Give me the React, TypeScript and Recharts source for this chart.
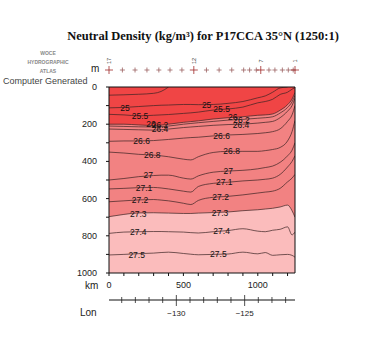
import React from "react"
import { ComposedChart, Area, Line, Scatter, XAxis, YAxis, CartesianGrid } from "recharts"

// section distance (km) where the contour depths were read
const KM = [0, 100, 200, 300, 350, 400, 500, 550, 600, 700, 800, 900, 1000, 1050, 1100, 1150, 1200, 1230, 1250]

// depth (m) of each neutral density surface along the section
const D245 = [44, 42, 39, 34, 24, 0, null, null, null, null, null, null, null, null, null, null, null, null, null]
const D250 = [112, 110, 105, 100, 98, 97, 94, 94, 95, 94, 88, 78, 58, 48, 28, 5, 0, null, null]
const D255 = [147, 150, 155, 152, 150, 148, 142, 139, 135, 124, 118, 108, 85, 78, 66, 40, 28, 12, 3]
const D260 = [200, 200, 204, 207, 205, 200, 190, 186, 182, 172, 165, 160, 152, 150, 145, 125, 95, 65, 30]
const D262 = [210, 212, 214, 215, 213, 210, 200, 196, 192, 185, 178, 174, 168, 165, 160, 140, 110, 80, 45]
const D264 = [226, 228, 230, 232, 230, 226, 218, 215, 212, 206, 202, 200, 194, 190, 185, 165, 130, 100, 60]
const D266 = [292, 290, 290, 288, 285, 282, 275, 272, 270, 263, 258, 255, 250, 246, 240, 225, 185, 150, 100]
const D268 = [350, 355, 362, 366, 370, 375, 388, 392, 375, 352, 346, 346, 346, 342, 336, 325, 290, 240, 180]
const D270 = [500, 492, 482, 476, 474, 474, 490, 495, 478, 458, 452, 448, 440, 433, 425, 405, 370, 340, 300]
const D271 = [548, 545, 541, 540, 543, 548, 560, 565, 535, 518, 512, 505, 500, 496, 490, 470, 430, 400, 370]
const D272 = [617, 612, 607, 605, 608, 612, 625, 632, 610, 593, 588, 580, 570, 565, 560, 545, 510, 490, 470]
const D273 = [697, 685, 677, 676, 677, 678, 680, 680, 678, 675, 672, 665, 660, 656, 652, 645, 635, 665, 700]
const D274 = [787, 780, 778, 777, 777, 778, 780, 783, 785, 778, 772, 762, 775, 778, 770, 765, 752, 795, 780]
const D275 = [903, 900, 896, 893, 890, 888, 895, 899, 902, 900, 898, 888, 897, 890, 905, 902, 900, 905, 915]

// contour labels (two per surface)
const LABEL_TEXT = ["25", "25.5", "26", "26.2", "26.4", "26.6", "26.8", "27", "27.1", "27.2", "27.3", "27.4", "27.5"]
const LABEL_KM_L = [107, 208, 282, 343, 343, 219, 291, 264, 235, 208, 197, 197, 186]
const LABEL_DEPTH_L = [115, 156, 200, 204, 226, 290, 366, 475, 541, 607, 681, 778, 903]
const LABEL_KM_R = [656, 757, 831, 891, 887, 757, 824, 802, 775, 750, 746, 757, 735]
const LABEL_DEPTH_R = [97, 120, 163, 176, 204, 262, 344, 450, 509, 590, 676, 774, 898]

// station positions along the track
const STATION_KM = [0, 90, 175, 255, 335, 410, 490, 570, 655, 740, 825, 905, 945, 990, 1020, 1075, 1115, 1165, 1205, 1238, 1250]
const MAJOR_KM = [0, 570, 1020, 1250]
const MAJOR_LABEL = ["17", "12", "7", "1"]

const KM_TICKS = [0, 100, 200, 300, 400, 500, 600, 700, 800, 900, 1000, 1100, 1200]
const DEPTH_TICKS = [0, 100, 200, 300, 400, 500, 600, 700, 800, 900, 1000]

// longitude scale along the section
const LON_TICKS = [-134, -133, -132, -131, -130, -129, -128, -127, -126, -125, -124, -123, -122]
const LON_LABELS = [-130, -125]
const LON_AT_ZERO_KM = -134.93
const KM_PER_DEG = 91.8
const lonToKm = (lon: number) => (lon - LON_AT_ZERO_KM) * KM_PER_DEG
const kmToLon = (km: number) => Math.round(km / KM_PER_DEG + LON_AT_ZERO_KM)
const LON_TICK_KM = LON_TICKS.map(lonToKm)

const LINE_KEYS = ["d245", "d250", "d255", "d260", "d262", "d264", "d266", "d268", "d270", "d271", "d272", "d273", "d274", "d275"]

const rows = KM.map((km, i) => ({
  km,
  d245: D245[i],
  d250: D250[i],
  d255: D255[i],
  d260: D260[i],
  d262: D262[i],
  d264: D264[i],
  d266: D266[i],
  d268: D268[i],
  d270: D270[i],
  d271: D271[i],
  d272: D272[i],
  d273: D273[i],
  d274: D274[i],
  d275: D275[i],
}))

const labelRows = [
  ...LABEL_TEXT.map((text, i) => ({ km: LABEL_KM_L[i], depth: LABEL_DEPTH_L[i], text })),
  ...LABEL_TEXT.map((text, i) => ({ km: LABEL_KM_R[i], depth: LABEL_DEPTH_R[i], text })),
]

const SANS = "'Liberation Sans', Arial, sans-serif"

const DepthTick = (props: any) => {
  const { x, y, payload } = props
  if (payload.value % 200 !== 0) return null
  return (
    <text x={x} y={y} dy={3} textAnchor="end" fontSize={9} fill="#222" fontFamily={SANS}>
      {payload.value}
    </text>
  )
}

const KmTick = (props: any) => {
  const { x, y, payload } = props
  if (payload.value % 500 !== 0) return null
  return (
    <text x={x} y={y + 10} textAnchor="middle" fontSize={9} fill="#222" fontFamily={SANS}>
      {payload.value}
    </text>
  )
}

const LonTick = (props: any) => {
  const { x, y, payload } = props
  const lon = kmToLon(payload.value)
  const major = LON_LABELS.includes(lon)
  return (
    <g>
      <line x1={x} x2={x} y1={y - (major ? 5 : 3)} y2={y + (major ? 6 : 3)} stroke="#222" strokeWidth={0.8} />
      {major && (
        <text x={x} y={y + 16} textAnchor="middle" fontSize={8} fill="#222" fontFamily={SANS}>
          {"\u2212" + Math.abs(lon)}
        </text>
      )}
    </g>
  )
}

const StationTick = (props: any) => {
  const { x, payload } = props
  const idx = MAJOR_KM.indexOf(payload.value)
  const r = idx >= 0 ? 4 : 2.5
  const py = 70
  const col = idx >= 0 ? "#a02828" : "#9a6060"
  return (
    <g>
      <line x1={x - r} x2={x + r} y1={py} y2={py} stroke={col} strokeWidth={0.8} />
      <line x1={x} x2={x} y1={py - r} y2={py + r} stroke={col} strokeWidth={0.8} />
      {idx >= 0 && (
        <text x={x} y={61} transform={`rotate(-90 ${x} 61)`} dy={2} textAnchor="middle" fontSize={5.5} fill="#333" fontFamily={SANS}>
          {MAJOR_LABEL[idx]}
        </text>
      )}
    </g>
  )
}

const ContourLabel = (props: any) => {
  const { cx, cy, payload } = props
  return (
    <text x={cx} y={cy} dy={3} textAnchor="middle" fontSize={8.5} fill="#111" fontFamily={SANS}>
      {payload.text}
    </text>
  )
}

export default function App() {
  return (
    <div style={{ position: "absolute", left: 0, top: 0, width: 375, height: 350, background: "#fff" }}>
      <div
        style={{
          position: "absolute",
          left: 0,
          width: 406,
          top: 29,
          textAlign: "center",
          fontFamily: "'Liberation Serif', serif",
          fontWeight: "bold",
          fontSize: 12.5,
          color: "#111",
          whiteSpace: "nowrap",
        }}
      >
        Neutral Density (kg/m³) for P17CCA 35°N (1250:1)
      </div>
      <div style={{ position: "absolute", left: 20, width: 56, top: 49, textAlign: "center", fontFamily: SANS, fontWeight: "bold", fontSize: 5, lineHeight: "9px", color: "#888" }}>
        <div>WOCE</div>
        <div>HYDROGRAPHIC</div>
        <div>ATLAS</div>
      </div>
      <div style={{ position: "absolute", left: 3, top: 76, fontFamily: SANS, fontSize: 9, color: "#444", whiteSpace: "nowrap" }}>
        Computer Generated
      </div>
      <div style={{ position: "absolute", left: 91, top: 63, fontFamily: SANS, fontSize: 10, color: "#222" }}>m</div>
      <div style={{ position: "absolute", left: 85, top: 280, fontFamily: SANS, fontSize: 10, color: "#222" }}>km</div>
      <div style={{ position: "absolute", left: 80, top: 307, fontFamily: SANS, fontSize: 10, color: "#222" }}>Lon</div>

      <div style={{ position: "absolute", left: 0, top: 0 }}>
        <ComposedChart width={375} height={350} data={rows} margin={{ top: 57, right: 70, left: 0, bottom: 30 }}>
          <CartesianGrid xAxisId="km" yAxisId="depth" horizontal={false} vertical={false} fill="#fbbcbc" fillOpacity={1} />
          <XAxis
            xAxisId="km"
            dataKey="km"
            type="number"
            orientation="bottom"
            domain={[0, 1250]}
            allowDataOverflow
            ticks={KM_TICKS}
            interval={0}
            height={27}
            tickSize={3}
            tickMargin={2}
            tick={<KmTick />}
            stroke="#111"
          />
          <XAxis
            xAxisId="lon"
            dataKey="km"
            type="number"
            orientation="bottom"
            domain={[0, 1250]}
            allowDataOverflow
            ticks={LON_TICK_KM}
            interval={0}
            height={20}
            tickLine={false}
            tickSize={0}
            tickMargin={0}
            tick={<LonTick />}
            stroke="#111"
          />
          <XAxis
            xAxisId="a_box"
            dataKey="km"
            type="number"
            orientation="top"
            domain={[0, 1250]}
            allowDataOverflow
            ticks={KM_TICKS}
            interval={0}
            height={10}
            tickSize={3}
            tick={false}
            stroke="#111"
          />
          <XAxis
            xAxisId="b_stn"
            dataKey="km"
            type="number"
            orientation="top"
            domain={[0, 1250]}
            allowDataOverflow
            ticks={STATION_KM}
            interval={0}
            height={20}
            axisLine={false}
            tickLine={false}
            tick={<StationTick />}
          />
          <YAxis
            yAxisId="depth"
            type="number"
            domain={[0, 1000]}
            allowDataOverflow
            reversed
            ticks={DEPTH_TICKS}
            interval={0}
            width={109}
            tickSize={3}
            tickMargin={9}
            tick={<DepthTick />}
            stroke="#111"
          />
          <YAxis
            yAxisId="depthR"
            orientation="right"
            type="number"
            domain={[0, 1000]}
            allowDataOverflow
            reversed
            ticks={DEPTH_TICKS}
            interval={0}
            width={10}
            tickSize={3}
            tick={false}
            stroke="#111"
          />
          <Area
            xAxisId="km"
            yAxisId="depth"
            dataKey="d273"
            type="monotone"
            baseValue={0}
            stroke="none"
            fill="#f28282"
            fillOpacity={1}
            isAnimationActive={false}
          />
          <Area
            xAxisId="km"
            yAxisId="depth"
            dataKey="d260"
            type="monotone"
            baseValue={0}
            stroke="none"
            fill="#f04545"
            fillOpacity={1}
            isAnimationActive={false}
          />
          {LINE_KEYS.map((k) => (
            <Line
              key={k}
              xAxisId="km"
              yAxisId="depth"
              dataKey={k}
              type="monotone"
              stroke="#3a2222"
              strokeWidth={0.7}
              dot={false}
              isAnimationActive={false}
            />
          ))}
          <Scatter
            xAxisId="km"
            yAxisId="depth"
            data={labelRows}
            dataKey="depth"
            shape={<ContourLabel />}
            isAnimationActive={false}
          />
        </ComposedChart>
      </div>
    </div>
  )
}
